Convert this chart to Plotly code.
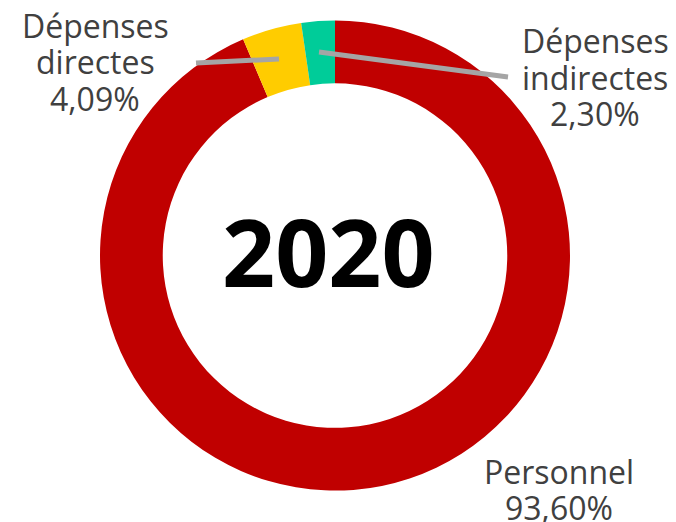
import plotly.graph_objects as go

W, H = 676, 522
OFF = 8  # page body margin pushes the plot 8px right/down

labels = ["Personnel", "Dépenses directes", "Dépenses indirectes"]
values = [93.60, 4.09, 2.30]
colors = ["#C00000", "#FFCC00", "#00CC99"]

# label text lines and where they sit (pixel centres of each line)
label_lines = [
    ["Personnel", "93,60%"],
    ["Dépenses", "directes", "4,09%"],
    ["Dépenses", "indirectes", "2,30%"],
]
label_pos = [(559, 471), (95, 26), (595, 41)]
line_gap = 36

# leader lines (pixels): x0, y0, x1, y1
leaders = [(196, 63, 279, 59), (319, 52, 508, 77)]


def px(x, y):
    return (x - OFF) / W, 1 - (y - OFF) / H


fig = go.Figure()
x0, y0 = px(100, 490.6)
x1, y1 = px(570, 20.6)
fig.add_trace(go.Pie(
    labels=labels,
    values=values,
    hole=0.733,
    sort=False,
    direction="clockwise",
    rotation=0,
    marker=dict(colors=colors, line=dict(width=0)),
    textinfo="none",
    hoverinfo="label+percent",
    showlegend=False,
    domain=dict(x=[x0, x1], y=[y0, y1]),
))

for lines, (cx, cy) in zip(label_lines, label_pos):
    for i, txt in enumerate(lines):
        ax_, ay_ = px(cx, cy + i * line_gap)
        fig.add_annotation(
            x=ax_, y=ay_,
            xref="paper", yref="paper",
            text=txt, showarrow=False,
            xanchor="center", yanchor="middle",
            font=dict(family="Open Sans", size=32, color="#404040"),
        )

for lx0, ly0, lx1, ly1 in leaders:
    a, b = px(lx0, ly0)
    c, d = px(lx1, ly1)
    fig.add_shape(
        type="line", xref="paper", yref="paper",
        x0=a, y0=b, x1=c, y1=d,
        line=dict(color="#A5A5A5", width=5),
    )

tx, ty = px(328, 251)
fig.add_annotation(
    x=tx, y=ty, xref="paper", yref="paper",
    text="<b>2020</b>", showarrow=False,
    xanchor="center", yanchor="middle",
    font=dict(family="Open Sans", size=93, color="#000000"),
)

fig.update_layout(
    width=W, height=H,
    margin=dict(l=0, r=0, t=0, b=0),
    paper_bgcolor="white",
    plot_bgcolor="white",
)

fig.write_html("out.html")
